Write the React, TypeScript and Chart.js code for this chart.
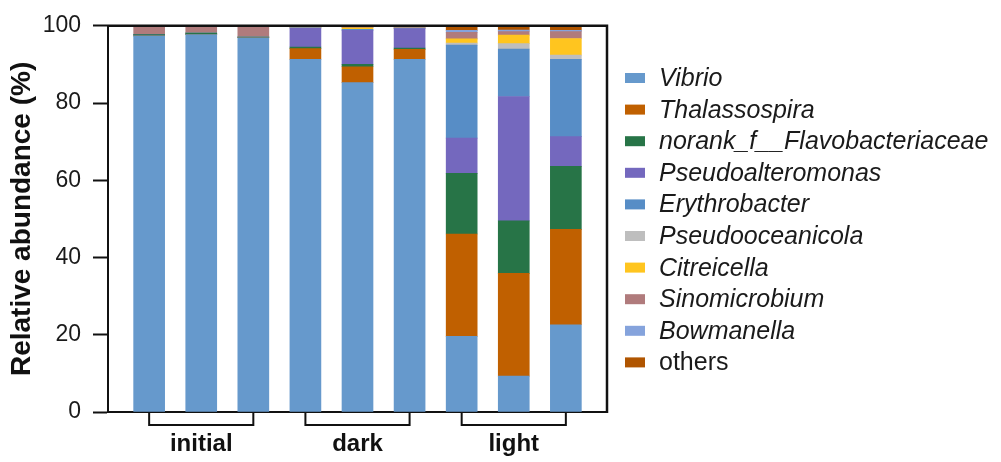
import React, { useEffect, useRef } from "react";
import { Chart, registerables } from "chart.js";

Chart.register(...registerables);

const samples = ["initial1", "initial2", "initial3", "dark1", "dark2", "dark3", "light1", "light2", "light3"];
const groups = ["initial", "dark", "light"];
const groupMembers = [[0, 2], [3, 5], [6, 8]];
const yTicks = [0, 20, 40, 60, 80, 100];

const seriesNames = [
  "Vibrio",
  "Thalassospira",
  "norank_f__Flavobacteriaceae",
  "Pseudoalteromonas",
  "Erythrobacter",
  "Pseudooceanicola",
  "Citreicella",
  "Sinomicrobium",
  "Bowmanella",
  "others",
];
const seriesItalic = [true, true, true, true, true, true, true, true, true, false];
const seriesColors = [
  "#6699cc",
  "#c06000",
  "#277447",
  "#7468be",
  "#578dc6",
  "#bebebe",
  "#ffc51f",
  "#b07b7c",
  "#85a3dc",
  "#b05500",
];

const vibrio = [97.4, 97.7, 96.9, 91.3, 85.3, 91.3, 19.6, 9.3, 22.6];
const thalassospira = [0, 0, 0, 2.8, 4.1, 2.6, 26.5, 26.6, 24.7];
const norankFlavo = [0.3, 0.4, 0.2, 0.4, 0.6, 0.3, 15.7, 13.6, 16.3];
const pseudoalteromonas = [0, 0, 0, 4.9, 8.8, 5.1, 9.1, 32.2, 7.7];
const erythrobacter = [0, 0, 0, 0.1, 0.3, 0.1, 24.1, 12.3, 20.0];
const pseudooceanicola = [0, 0, 0, 0, 0, 0, 0.5, 1.4, 1.1];
const citreicella = [0, 0, 0, 0.1, 0.4, 0, 1.1, 2.2, 4.3];
const sinomicrobium = [2.1, 1.9, 2.7, 0.2, 0.2, 0.3, 1.7, 0.9, 1.8];
const bowmanella = [0, 0, 0, 0, 0, 0, 0.5, 0.4, 0.3];
const others = [0.2, 0, 0.2, 0.2, 0.3, 0.3, 1.2, 1.1, 1.2];

const seriesValues = [
  vibrio,
  thalassospira,
  norankFlavo,
  pseudoalteromonas,
  erythrobacter,
  pseudooceanicola,
  citreicella,
  sinomicrobium,
  bowmanella,
  others,
];

const FONT = '"Liberation Sans", Arial, Helvetica, sans-serif';

const decorPlugin = {
  id: "decor",
  afterDraw(chart: any) {
    const { ctx, chartArea } = chart;
    const xs = chart.scales.x;
    ctx.save();
    // top and right frame
    ctx.strokeStyle = "#111";
    ctx.lineWidth = 2.5;
    ctx.beginPath();
    ctx.moveTo(chartArea.left - 1, chartArea.top);
    ctx.lineTo(chartArea.right, chartArea.top);
    ctx.lineTo(chartArea.right, chartArea.bottom + 1);
    ctx.stroke();

    // group brackets and labels
    ctx.lineWidth = 2;
    ctx.fillStyle = "#111";
    ctx.font = `bold 24px ${FONT}`;
    ctx.textAlign = "center";
    ctx.textBaseline = "middle";
    groups.forEach((g, gi) => {
      const [a, b] = groupMembers[gi];
      const x1 = xs.getPixelForValue(a);
      const x2 = xs.getPixelForValue(b);
      const y0 = chartArea.bottom;
      const y1 = y0 + 13;
      ctx.beginPath();
      ctx.moveTo(x1, y0);
      ctx.lineTo(x1, y1);
      ctx.lineTo(x2, y1);
      ctx.lineTo(x2, y0);
      ctx.stroke();
      ctx.fillText(g, (x1 + x2) / 2, y0 + 32);
    });

    // legend
    const lx = chartArea.right + 18;
    const ly0 = 78;
    const step = 31.6;
    ctx.textAlign = "left";
    seriesNames.forEach((name, i) => {
      const cy = ly0 + i * step;
      ctx.fillStyle = seriesColors[i];
      ctx.fillRect(lx, cy - 5, 20, 10);
      ctx.fillStyle = "#1a1a1a";
      ctx.font = `${seriesItalic[i] ? "italic " : ""}25px ${FONT}`;
      ctx.fillText(name, lx + 34, cy + 1);
    });
    ctx.restore();
  },
};

export default function App() {
  const ref = useRef<HTMLCanvasElement | null>(null);
  useEffect(() => {
    if (!ref.current) return;
    const chart = new Chart(ref.current, {
      type: "bar",
      data: {
        datasets: seriesNames.map((name, si) => ({
          label: name,
          data: seriesValues[si].map((v, i) => ({ x: i, y: v })),
          backgroundColor: seriesColors[si],
          borderWidth: 0,
          barThickness: 31,
        })),
      },
      options: {
        animation: false,
        responsive: true,
        maintainAspectRatio: false,
        layout: { padding: { left: 0, top: 24, right: 394, bottom: 50 } },
        plugins: {
          legend: { display: false },
          tooltip: { enabled: false },
        },
        scales: {
          x: {
            type: "linear",
            stacked: true,
            offset: false,
            min: -0.79,
            max: 8.79,
            grid: { display: false },
            ticks: { display: false },
            border: { display: true, color: "#111", width: 2 },
            afterFit: (s: any) => {
              s.height = 0;
            },
          },
          y: {
            stacked: true,
            min: 0,
            max: 100,
            afterBuildTicks: (s: any) => {
              s.ticks = yTicks.map((v) => ({ value: v }));
            },
            grid: {
              display: true,
              drawOnChartArea: false,
              drawTicks: true,
              tickLength: 15,
              tickColor: "#111",
              tickWidth: 2,
            },
            border: { display: true, color: "#111", width: 2 },
            ticks: {
              color: "#1a1a1a",
              padding: 12,
              font: { family: FONT, size: 23 },
            },
            title: {
              display: true,
              text: "Relative abundance (%)",
              color: "#111",
              font: { family: FONT, size: 28, weight: "bold" },
              padding: { top: 5, bottom: 0 },
            },
            afterFit: (s: any) => {
              s.width = 108;
            },
          },
        },
      },
      plugins: [decorPlugin],
    });
    return () => chart.destroy();
  }, []);
  return (
    <div style={{ position: "fixed", left: 0, top: 0, width: 1001, height: 462, background: "#fff" }}>
      <canvas ref={ref} />
    </div>
  );
}
